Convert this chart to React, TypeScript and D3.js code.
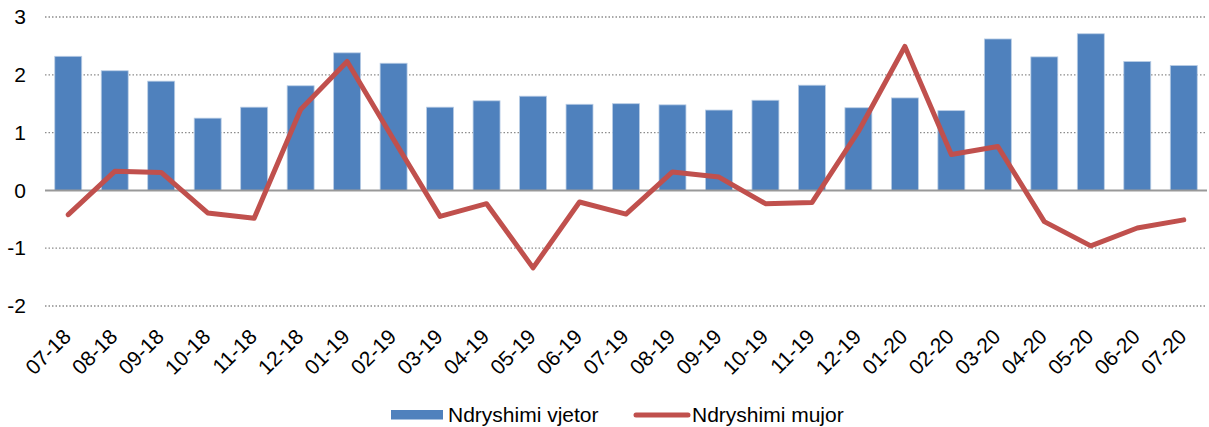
import { useEffect, useRef } from 'react';
import * as d3 from 'd3';

// Months (MM-YY)
const months = [
  '07-18', '08-18', '09-18', '10-18', '11-18', '12-18',
  '01-19', '02-19', '03-19', '04-19', '05-19', '06-19',
  '07-19', '08-19', '09-19', '10-19', '11-19', '12-19',
  '01-20', '02-20', '03-20', '04-20', '05-20', '06-20', '07-20',
];

// Annual change (bars)
const vjetor = [
  2.32, 2.07, 1.89, 1.25, 1.44, 1.81,
  2.38, 2.20, 1.44, 1.55, 1.63, 1.49,
  1.50, 1.48, 1.39, 1.56, 1.82, 1.43,
  1.60, 1.38, 2.62, 2.31, 2.71, 2.23, 2.16,
];

// Monthly change (line)
const mujor = [
  -0.42, 0.33, 0.31, -0.39, -0.48, 1.40,
  2.23, 0.88, -0.45, -0.23, -1.34, -0.20,
  -0.41, 0.32, 0.23, -0.23, -0.21, 1.02,
  2.49, 0.62, 0.76, -0.54, -0.96, -0.65, -0.51,
];

const yTicks = [-2, -1, 0, 1, 2, 3];

const labels = ['Ndryshimi vjetor', 'Ndryshimi mujor'];

const W = 1209;
const H = 427;
const FONT = 'Arial, "Liberation Sans", Helvetica, sans-serif';
const FS = '21px';

export default function App() {
  const ref = useRef<SVGSVGElement>(null);

  useEffect(() => {
    if (!ref.current) return;
    const svg = d3.select(ref.current);
    svg.selectAll('*').remove();

    const left = 45;
    const right = 1207;
    const x = d3.scaleBand().domain(months).range([left, right]).paddingInner(0.42).paddingOuter(0.21);
    const y = d3.scaleLinear().domain([-2, 3]).range([306, 17]);

    // Grid lines
    const grid = svg.append('g');
    yTicks.filter(t => t !== 0).forEach(t => {
      grid.append('line')
        .attr('x1', left).attr('x2', right)
        .attr('y1', y(t)).attr('y2', y(t))
        .attr('stroke', '#8c8c8c')
        .attr('stroke-width', 1.3)
        .attr('stroke-dasharray', '1.5,2');
    });

    // Y axis labels
    const yAxis = svg.append('g')
      .attr('transform', `translate(${left},0)`)
      .call(d3.axisLeft(y).tickValues(yTicks).tickSize(0).tickPadding(19).tickFormat(d => String(d)));
    yAxis.select('.domain').remove();
    yAxis.selectAll('text')
      .style('font-family', FONT)
      .style('font-size', FS)
      .attr('fill', '#000');

    // Bars
    svg.append('g')
      .selectAll('rect')
      .data(vjetor)
      .join('rect')
      .attr('x', (_, i) => x(months[i]) ?? 0)
      .attr('width', x.bandwidth())
      .attr('y', d => y(Math.max(0, d)))
      .attr('height', d => Math.abs(y(d) - y(0)))
      .attr('fill', '#4f81bd')
      .attr('stroke', '#b9cde5')
      .attr('stroke-width', 0.8);

    // Zero axis
    svg.append('line')
      .attr('x1', left).attr('x2', right)
      .attr('y1', y(0)).attr('y2', y(0))
      .attr('stroke', '#999')
      .attr('stroke-width', 2);

    // X labels
    const xAxis = svg.append('g')
      .attr('transform', `translate(0,${y(-2)})`)
      .call(d3.axisBottom(x).tickSize(0).tickPadding(0));
    xAxis.select('.domain').remove();
    xAxis.selectAll('text')
      .attr('y', 0)
      .attr('dy', 0)
      .attr('transform', 'translate(4,32) rotate(-45)')
      .attr('text-anchor', 'end')
      .style('font-family', FONT)
      .style('font-size', FS)
      .attr('fill', '#000');

    // Line
    const line = d3.line<number>()
      .x((_, i) => (x(months[i]) ?? 0) + x.bandwidth() / 2)
      .y(d => y(d));
    svg.append('path')
      .datum(mujor)
      .attr('d', line)
      .attr('fill', 'none')
      .attr('stroke', '#c0504d')
      .attr('stroke-width', 5)
      .attr('stroke-linejoin', 'round')
      .attr('stroke-linecap', 'round');

    // Legend
    const lg = svg.append('g').attr('transform', 'translate(0,415)');
    lg.append('rect')
      .attr('x', 391).attr('y', -5).attr('width', 52).attr('height', 9.5)
      .attr('fill', '#4f81bd');
    lg.append('text')
      .attr('x', 448).attr('y', 0).attr('dy', '0.35em')
      .style('font-family', FONT).style('font-size', FS)
      .text(labels[0]);
    lg.append('line')
      .attr('x1', 636).attr('x2', 688).attr('y1', 0).attr('y2', 0)
      .attr('stroke', '#c0504d').attr('stroke-width', 5).attr('stroke-linecap', 'round');
    lg.append('text')
      .attr('x', 692).attr('y', 0).attr('dy', '0.35em')
      .style('font-family', FONT).style('font-size', FS)
      .text(labels[1]);
  }, []);

  return (
    <svg
      ref={ref}
      width={W}
      height={H}
      style={{ position: 'absolute', left: 0, top: 0, background: '#fff' }}
    />
  );
}
